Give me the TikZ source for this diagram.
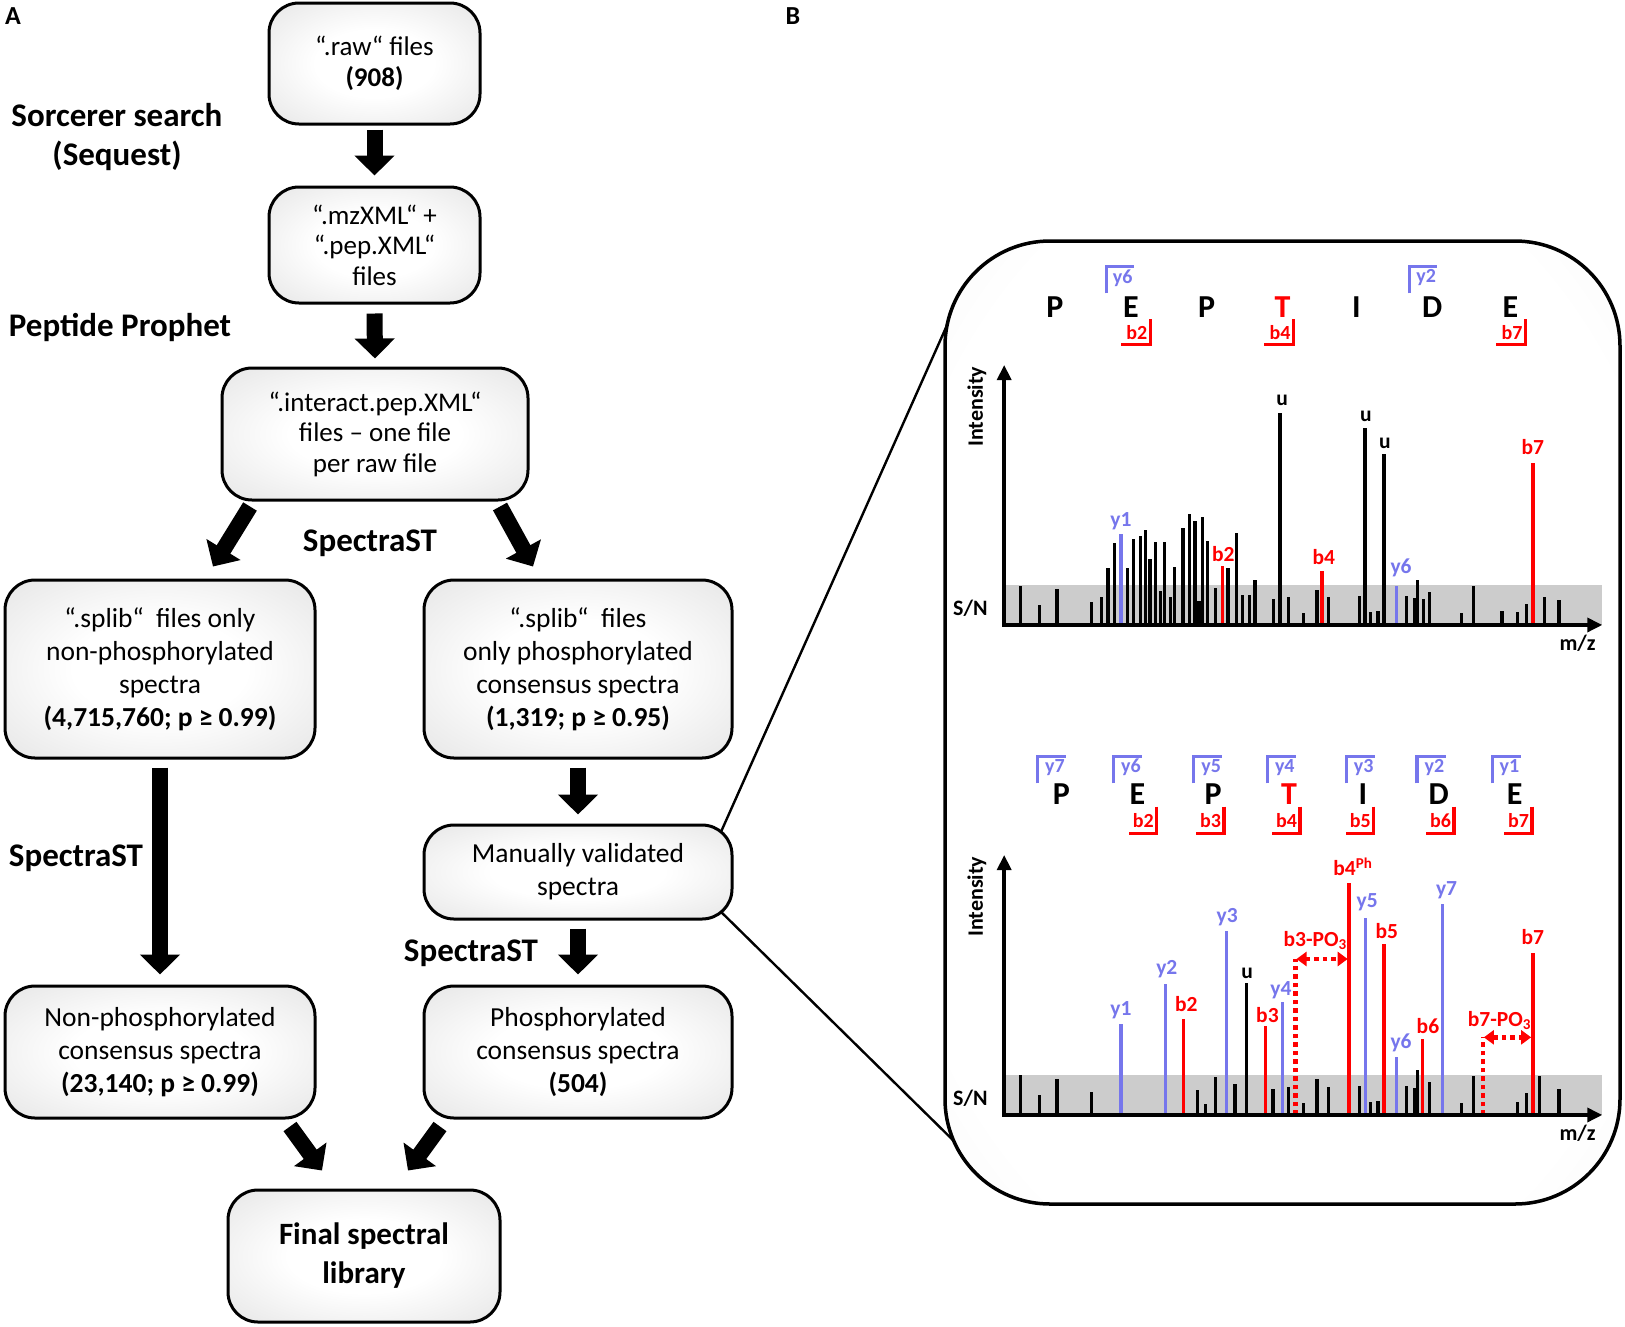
\documentclass[tikz,border=0pt]{standalone}
\usepackage{fontspec}
\setmainfont{Carlito}
\usetikzlibrary{arrows.meta,calc}
\pgfdeclarelayer{background}
\pgfsetlayers{background,main}
\definecolor{ionblue}{RGB}{118,118,236}
\definecolor{ionred}{RGB}{255,0,0}
\definecolor{snband}{RGB}{204,204,204}
\definecolor{boxedge}{RGB}{214,214,214}
\definecolor{boxcorner}{RGB}{196,196,196}
\definecolor{paneledge}{RGB}{236,236,236}
\definecolor{panelcorner}{RGB}{206,206,206}
\pgfdeclareradialshading{boxglow}{\pgfpoint{0bp}{0bp}}{color(0bp)=(white); color(14bp)=(white); color(50bp)=(boxedge); color(71bp)=(boxcorner)}
\pgfdeclareradialshading{panelglow}{\pgfpoint{0bp}{0bp}}{color(0bp)=(white); color(30bp)=(white); color(50bp)=(paneledge); color(71bp)=(panelcorner)}
\newcommand{\boxfont}{\fontsize{27}{30.5}\selectfont}
\newcommand{\boxfontb}{\fontsize{27.5}{33}\selectfont}
\newcommand{\stepfont}{\fontsize{33}{39}\selectfont\bfseries}
\begin{document}
\begin{tikzpicture}[x=1pt,y=-1pt,
  box/.style={draw, line width=3pt, rounded corners=30pt, shade, shading=boxglow, align=center, inner sep=0pt},
  blockarrow/.style={line width=16pt, -{Triangle[width=39pt,length=20pt]}},
  steplabel/.style={font=\stepfont, align=center, inner sep=0pt},
  panellabel/.style={font=\fontsize{26}{26}\selectfont\bfseries, inner sep=0pt},
  connector/.style={line width=2.4pt},
  ionbar/.style={line width=3.3pt},
  barlbl/.style={font=\fontsize{21.5}{21.5}\selectfont\bfseries, inner sep=0pt},
  axlbl/.style={font=\fontsize{22}{22}\selectfont\bfseries, inner sep=0pt},
  aa/.style={font=\fontsize{32}{32}\selectfont\bfseries, inner sep=0pt},
  brlbl/.style={font=\fontsize{20}{20}\selectfont\bfseries, inner sep=0pt},
  bracket/.style={line width=3.2pt},
  specaxis/.style={line width=3.5pt, {Triangle[width=14pt,length=15pt]}-{Triangle[width=14pt,length=15pt]}},
  dotline/.style={ionred, line width=4.5pt, dash pattern=on 4.5pt off 4pt},
  dottips/.style={{Triangle[width=14pt,length=10pt]}-{Triangle[width=14pt,length=10pt]}},
]
\useasboundingbox (0,0) rectangle (1625,1326);

% panel labels
\node[panellabel] (lA) at (13,16) {A};
\node[panellabel] (lB) at (793,16) {B};

% ---------- panel A ----------
\node[box, font=\boxfont, minimum width=211pt, minimum height=121pt] (b1) at (374.5,63.5) {“.raw“ files\\\textbf{(908)}};
\node[box, font=\boxfont, minimum width=211pt, minimum height=116pt] (b2) at (374.5,245) {“.mzXML“ +\\“.pep.XML“\\files};
\node[box, font=\boxfont, minimum width=306pt, minimum height=132pt] (b3) at (375,434) {“.interact.pep.XML“\\files – one file\\per raw file};
\node[box, font=\boxfontb, minimum width=310pt, minimum height=178pt] (b4) at (160,669) {“.splib“~ files only\\non-phosphorylated\\spectra\\\textbf{(4,715,760; p ≥ 0.99)}};
\node[box, font=\boxfontb, minimum width=308pt, minimum height=178pt] (b5) at (578,669) {“.splib“~ files\\only phosphorylated\\consensus spectra\\\textbf{(1,319; p ≥ 0.95)}};
\node[box, font=\boxfontb, minimum width=308pt, minimum height=94pt] (b6) at (578,872) {Manually validated\\spectra};
\node[box, font=\boxfontb, minimum width=310pt, minimum height=132pt] (b7) at (160,1052) {Non-phosphorylated\\consensus spectra\\\textbf{(23,140; p ≥ 0.99)}};
\node[box, font=\boxfontb, minimum width=308pt, minimum height=132pt] (b8) at (578,1052) {Phosphorylated\\consensus spectra\\\textbf{(504)}};
\node[box, font=\fontsize{31}{39}\selectfont\bfseries, minimum width=272pt, minimum height=132pt] (fin) at (364,1256) {Final spectral\\library};

\node[steplabel] (s1) at (117,137) {Sorcerer search\\(Sequest)};
\node[steplabel] (s2) at (120,327) {Peptide Prophet};
\node[steplabel] (s3) at (370,543) {SpectraST};
\node[steplabel] (s4) at (76,858) {SpectraST};
\node[steplabel] (s5) at (471,953) {SpectraST};

\draw[blockarrow] ([yshift=-4pt]b1.south) -- ([yshift=10pt]b2.north);
\draw[blockarrow] ([yshift=-9pt]b2.south) -- ([yshift=8pt]b3.north);
\draw[blockarrow] ($(b3.south)+(-125,5)$) -- ($(b4.north)+(53,-12)$);
\draw[blockarrow] ($(b3.south)+(125,5)$) -- ($(b5.north)+(-45,-12)$);
\draw[blockarrow] ([yshift=-8pt]b4.south) -- ([yshift=10pt]b7.north);
\draw[blockarrow] ([yshift=-8pt]b5.south) -- ([yshift=9pt]b6.north);
\draw[blockarrow] ([yshift=-8pt]b6.south) -- ([yshift=10pt]b8.north);
\draw[blockarrow] ($(b7.south)+(130,7)$) -- ($(fin.north)+(-42,-18)$);
\draw[blockarrow] ($(b8.south)+(-138,7)$) -- ($(fin.north)+(44,-18)$);

% ---------- panel B ----------
\node[draw, line width=3.5pt, rounded corners=105pt, shade, shading=panelglow, minimum width=675pt, minimum height=963pt, inner sep=0pt] (panel) at (1282.5,722.5) {};
\coordinate (pA) at (948,323);
\coordinate (pB) at (960,1147);
\begin{pgfonlayer}{background}
\draw[connector] ($(b6.center)+(134,-20)$) -- (pA);
\draw[connector] ($(b6.center)+(134,31)$) -- (pB);
\end{pgfonlayer}

% top peptide
\begin{scope}[shift={(940,260)}, x=0.4337pt, y=-0.3333pt]
  \node[aa] (tP1) at (265,141) {P};
  \node[aa] (tE1) at (440,141) {E};
  \node[aa] (tP2) at (615,141) {P};
  \node[aa, text=ionred] (tT) at (790,141) {T};
  \node[aa] (tI) at (960,141) {I};
  \node[aa] (tD) at (1135,141) {D};
  \node[aa] (tE2) at (1315,141) {E};
  \foreach \bx/\lb in {383/y6,1083/y2}{
    \draw[bracket, ionblue] (\bx,100) -- (\bx,20) -- (\bx+64,20);
    \node[brlbl, text=ionblue] at (\bx+38,54) {\lb};
  }
  \foreach \bx/\lb in {485/b2,815/b4,1350/b7}{
    \draw[bracket, ionred] (\bx,178) -- (\bx,253) -- (\bx-67,253);
    \node[brlbl, text=ionred] at (\bx-31,219) {\lb};
  }
\end{scope}

% top spectrum
\begin{scope}[shift={(940,360)}, x=0.4337pt, y=-0.3333pt]
  \fill[snband] (148,675) rectangle (1527,795);
  \foreach \bx/\bt in {186/678,230/735,270/688,350/725,373/710,387/623,402/548,432/623,446/538,462/527,474/510,484/596,497/545,508/692,518/545,531/712,541/620,560/505,576/463,588/482,597/722,606/470,617/542,635/683,664/623,683/519,698/706,714/706,726/659,769/716,784/158,803/712,838/758,869/690,896/712,967/709,980/205,992/755,1010/752,1024/281,1076/709,1095/713,1101/659,1114/718,1128/695,1202/760,1230/679,1296/752,1331/755,1353/731,1394/712,1427/719}
    \draw[ionbar] (\bx,795) -- (\bx,\bt);
  \foreach \bx/\bt in {417/523,1052/678}
    \draw[ionbar, ionblue] (\bx,795) -- (\bx,\bt);
  \foreach \bx/\bt in {651/617,881/634,1367/310}
    \draw[ionbar, ionred] (\bx,795) -- (\bx,\bt);
  \draw[specaxis] (148,15) -- (148,795) -- (1527,795);
  \node[barlbl, text=ionblue] at (417,483) {y1};
  \node[barlbl, text=ionred] at (653,582) {b2};
  \node[barlbl] at (789,122) {u};
  \node[barlbl, text=ionred] at (885,590) {b4};
  \node[barlbl] at (982,170) {u};
  \node[barlbl] at (1026,250) {u};
  \node[barlbl, text=ionblue] at (1063,625) {y6};
  \node[barlbl, text=ionred] at (1367,262) {b7};
  \node[axlbl, rotate=90] at (85,140) {Intensity};
  \node[axlbl] at (70,745) {S/N};
  \node[axlbl] at (1470,850) {m/z};
\end{scope}

% bottom peptide
\begin{scope}[shift={(940,740)}, x=0.4337pt, y=-0.3333pt]
  \node[aa] (bP1) at (280,163) {P};
  \node[aa] (bE1) at (455,163) {E};
  \node[aa] (bP2) at (630,163) {P};
  \node[aa, text=ionred] (bT) at (805,163) {T};
  \node[aa] (bI) at (975,163) {I};
  \node[aa] (bD) at (1150,163) {D};
  \node[aa] (bE2) at (1325,163) {E};
  \foreach \bx/\lb in {225/y7,400/y6,585/y5,755/y4,937/y3,1100/y2,1273/y1}{
    \draw[bracket, ionblue] (\bx,130) -- (\bx,50) -- (\bx+66,50);
    \node[brlbl, text=ionblue] at (\bx+40,82) {\lb};
  }
  \foreach \bx/\lb in {500/b2,655/b3,830/b4,1000/b5,1185/b6,1365/b7}{
    \draw[bracket, ionred] (\bx,200) -- (\bx,280) -- (\bx-65,280);
    \node[brlbl, text=ionred] at (\bx-31,242) {\lb};
  }
\end{scope}

% bottom spectrum
\begin{scope}[shift={(940,850)}, x=0.4337pt, y=-0.3333pt]
  \fill[snband] (148,675) rectangle (1527,795);
  \foreach \bx/\bt in {186/676,230/735,270/688,350/725,594/720,612/762,635/680,680/702,707/398,768/716,803/712,838/758,869/688,896/712,967/709,992/755,1010/752,1076/707,1094/713,1101/659,1128/695,1202/760,1230/678,1331/755,1353/728,1383/678,1427/717}
    \draw[ionbar] (\bx,795) -- (\bx,\bt);
  \foreach \bx/\bt in {417/523,520/402,660/244,790/455,981/205,1052/622,1158/162}
    \draw[ionbar, ionblue] (\bx,795) -- (\bx,\bt);
  \foreach \bx/\bt in {561/507,750/527,943/100,1024/281,1113/567,1367/310}
    \draw[ionbar, ionred] (\bx,795) -- (\bx,\bt);
  \draw[dotline] (820,795) -- (820,327);
  \draw[dotline, dottips] (822,327) -- (940,327);
  \draw[dotline] (1252,795) -- (1252,562);
  \draw[dotline, dottips] (1254,562) -- (1363,562);
  \draw[specaxis] (148,15) -- (148,795) -- (1527,795);
  \node[barlbl, text=ionblue] at (417,482) {y1};
  \node[barlbl, text=ionblue] at (523,357) {y2};
  \node[barlbl, text=ionred] at (568,462) {b2};
  \node[barlbl, text=ionblue] at (662,200) {y3};
  \node[barlbl] at (708,370) {u};
  \node[barlbl, text=ionred] at (755,495) {b3};
  \node[barlbl, text=ionblue] at (786,420) {y4};
  \node[barlbl, text=ionred] at (865,272) {b3-PO\textsubscript{3}};
  \node[barlbl, text=ionred] at (952,50) {b4\textsuperscript{Ph}};
  \node[barlbl, text=ionblue] at (985,157) {y5};
  \node[barlbl, text=ionred] at (1030,242) {b5};
  \node[barlbl, text=ionblue] at (1063,578) {y6};
  \node[barlbl, text=ionred] at (1125,527) {b6};
  \node[barlbl, text=ionblue] at (1168,122) {y7};
  \node[barlbl, text=ionred] at (1290,512) {b7-PO\textsubscript{3}};
  \node[barlbl, text=ionred] at (1367,262) {b7};
  \node[axlbl, rotate=90] at (85,140) {Intensity};
  \node[axlbl] at (70,745) {S/N};
  \node[axlbl] at (1470,850) {m/z};
\end{scope}
\end{tikzpicture}
\end{document}
